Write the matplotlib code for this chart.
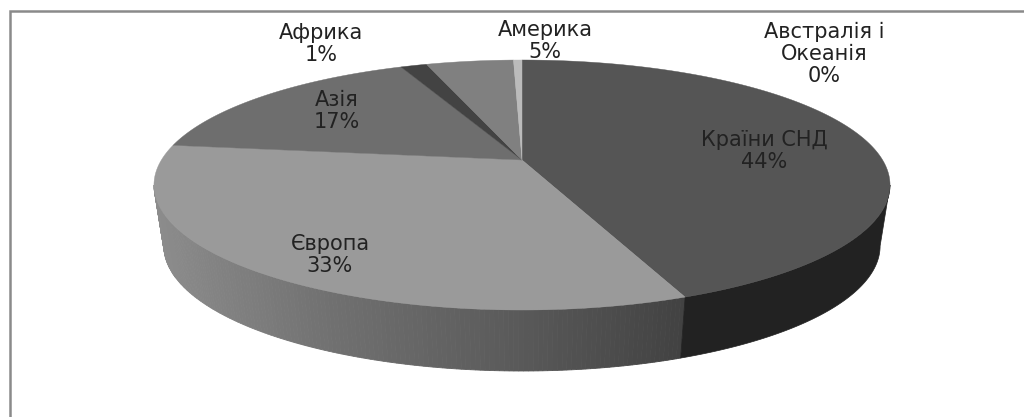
"""Кругова 3D-діаграма: частки регіонів (перспектива як в Excel)."""
import numpy as np
import matplotlib
matplotlib.use("Agg")
import matplotlib.pyplot as plt
from matplotlib.colors import LinearSegmentedColormap

regions = ["Країни СНД", "Європа", "Азія", "Африка", "Америка", "Австралія і\nОкеанія"]
shares = [44.0, 33.0, 16.5, 1.4, 4.65, 0.45]
pct_labels = ["44%", "33%", "17%", "1%", "5%", "0%"]
colors = ["#555555", "#9a9a9a", "#6e6e6e", "#434343", "#808080", "#bbbbbb"]
label_xy = [(764, 151), (330, 255), (337, 111), (321, 44), (545, 41), (824, 54)]

CX, CY = 522, 160
RX, RY, PERSP = 360.6, 120.0, 0.2
DEPTH, BASE_SCALE = 61, 0.973
side_cmap = LinearSegmentedColormap.from_list(
    "side", ["#8c8c8c", "#707070", "#5b5b5b", "#424242"])
CIS_SIDE = "#222222"


def rim(frac, r=1.0):
    """Частка кола (за годинниковою від верху) -> пікселі верхньої грані."""
    a = 2 * np.pi * np.asarray(frac)
    u, v = r * np.sin(a), -r * np.cos(a)
    s = 1 / (1 - PERSP * v)
    return CX + RX * u * s, CY + RY * v * s


def base(x, y):
    return CX + (np.asarray(x) - CX) * BASE_SCALE, np.asarray(y) + DEPTH


plt.rcParams["font.family"] = ["DejaVu Sans"]
fig = plt.figure(figsize=(10.24, 4.17), dpi=100)
ax = fig.add_axes([0, 0, 1, 1])
ax.set_xlim(0, 1024)
ax.set_ylim(417, 0)
ax.axis("off")

# рамка видна лише зліва і зверху
ax.plot([10, 10, 1024], [417, 10.5, 10.5], color="#8a8a8a", lw=1.8,
        zorder=1, solid_joinstyle="miter")

edges = np.concatenate([[0], np.cumsum(shares)]) / np.sum(shares)

# бокова стінка: між найширшими точками обода
right_f = np.arccos(-PERSP) / (2 * np.pi)
left_f = 1 - right_f
cis_end = edges[1]

fr = np.linspace(cis_end, left_f, 160)
xs, ys = rim(fr)
bx, by = base(xs, ys)
for i in range(len(fr) - 1):
    t = (xs[-1] - 0.5 * (xs[i] + xs[i + 1])) / (xs[-1] - xs[0])
    ax.fill([xs[i], xs[i + 1], bx[i + 1], bx[i]], [ys[i], ys[i + 1], by[i + 1], by[i]],
            color=side_cmap(t), lw=0.6, zorder=2)

fr = np.linspace(right_f, cis_end, 80)
xs, ys = rim(fr)
bx, by = base(xs, ys)
ax.fill(np.r_[xs, bx[::-1]], np.r_[ys, by[::-1]], color=CIS_SIDE, lw=0.5, zorder=2)

# верхня грань
for start, end, col in zip(edges[:-1], edges[1:], colors):
    fr = np.linspace(start, end, max(3, int((end - start) * 400)))
    xs, ys = rim(fr)
    ax.fill(np.r_[CX, xs], np.r_[CY, ys], color=col, lw=0.3, zorder=3)

for name, pct, (lx, ly) in zip(regions, pct_labels, label_xy):
    ax.text(lx, ly, name + "\n" + pct, ha="center", va="center", fontsize=15,
            color="#222222", linespacing=1.15, zorder=5)

fig.savefig("out.png", dpi=100)
